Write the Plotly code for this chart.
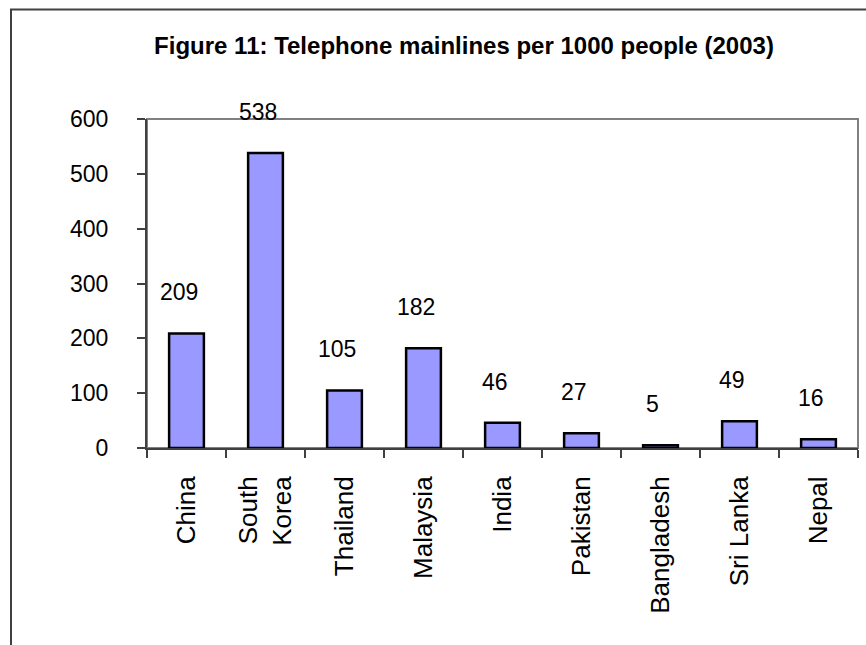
import plotly.graph_objects as go

# Telephone mainlines per 1000 people, 2003
countries = ["China", "South Korea", "Thailand", "Malaysia", "India",
             "Pakistan", "Bangladesh", "Sri Lanka", "Nepal"]
mainlines = [209, 538, 105, 182, 46, 27, 5, 49, 16]
country_ticktext = ["China", "South<br>Korea", "Thailand", "Malaysia", "India",
                    "Pakistan", "Bangladesh", "Sri Lanka", "Nepal"]
y_ticks = [0, 100, 200, 300, 400, 500, 600]

W, H = 866, 645
ML, MR, MT, MB = 147, 8, 119, 197
FONT = "Liberation Sans, Arial, sans-serif"

fig = go.Figure(
    go.Bar(
        x=countries,
        y=mainlines,
        marker=dict(color="#9999FF", line=dict(color="#000000", width=2.5)),
        hoverinfo="x+y",
    )
)

# value labels above each bar
for c, v in zip(countries, mainlines):
    fig.add_annotation(
        x=c, y=v, text=str(v), showarrow=False,
        xshift=-8, yshift=41, yanchor="middle",
        font=dict(family=FONT, size=23, color="#000000"),
    )

# plot-area frame
fig.add_shape(type="rect", xref="paper", yref="paper", x0=0, x1=1, y0=0, y1=1,
              line=dict(color="#808080", width=2), layer="below")

# outer chart border (extends past the bottom/right edges of the page)
pw = W - ML - MR
ph = H - MT - MB
def px_to_paper_x(px):
    return (px - ML) / pw
def px_to_paper_y(py):
    return (H - MB - py) / ph
fig.add_shape(type="rect", xref="paper", yref="paper",
              x0=px_to_paper_x(11), x1=px_to_paper_x(W + 20),
              y0=px_to_paper_y(H + 20), y1=px_to_paper_y(9.5),
              line=dict(color="#404040", width=2), layer="below")

fig.update_layout(
    width=W, height=H,
    margin=dict(l=ML, r=MR, t=MT, b=MB, pad=0),
    paper_bgcolor="#FFFFFF", plot_bgcolor="#FFFFFF",
    bargap=0.56,
    showlegend=False,
    font=dict(family=FONT, color="#000000"),
    title=dict(
        text="<b>Figure 11: Telephone mainlines per 1000 people (2003)</b>",
        x=464 / W, xanchor="center", y=1 - 46 / H, yanchor="middle",
        font=dict(family=FONT, size=24, color="#000000"),
    ),
    xaxis=dict(
        type="category",
        tickmode="array", tickvals=countries, ticktext=country_ticktext,
        tickson="boundaries", ticks="outside", ticklen=8, tickwidth=1.5,
        tickcolor="#404040", tickangle=-90,
        tickfont=dict(family=FONT, size=26, color="#000000"),
        ticklabelstandoff=16,
        showline=True, linecolor="#404040", linewidth=2,
        showgrid=False, zeroline=False, fixedrange=True,
    ),
    yaxis=dict(
        range=[0, 600], tickmode="array", tickvals=y_ticks,
        ticktext=[str(t) for t in y_ticks],
        ticks="outside", ticklen=8, tickwidth=1.5, tickcolor="#404040",
        tickfont=dict(family=FONT, size=23, color="#000000"),
        ticklabelstandoff=24,
        showline=True, linecolor="#404040", linewidth=2,
        showgrid=False, zeroline=False, fixedrange=True,
    ),
)

fig.write_html("out.html")
